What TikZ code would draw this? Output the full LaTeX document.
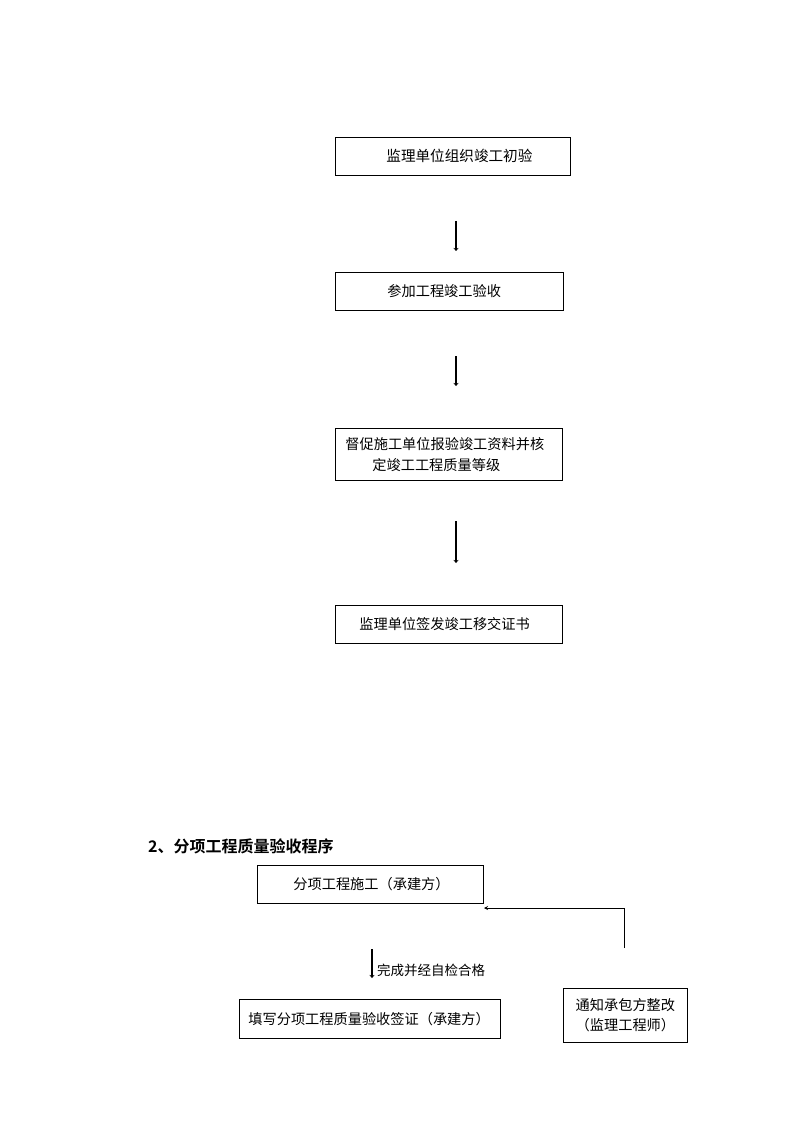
\documentclass[tikz,border=0pt]{standalone}
\usepackage{fontspec}
\setmainfont{Noto Sans CJK SC}[BoldFont={Noto Sans CJK SC Bold}]
\usetikzlibrary{arrows.meta}
\begin{document}
\begin{tikzpicture}[x=1pt,y=-1pt,
  box/.style={draw, line width=0.8pt, inner xsep=0pt, inner ysep=0pt, align=left, anchor=north west, font=\fontsize{14.2pt}{21pt}\selectfont},
  arr/.style={line width=1.6pt, -{Stealth[length=3pt,width=5pt]}},
  fb/.style={line width=0.8pt, -{Stealth[length=4pt,width=4pt]}}]
\useasboundingbox (0,0) rectangle (794,1123);
% top flow
\node[box, text width=235pt, minimum height=38pt] (b1) at (335,137) {\hspace*{51pt}\fontsize{14.6pt}{21pt}\selectfont 监理单位组织竣工初验};
\node[box, text width=228pt, minimum height=38pt] (b2) at (335,272) {\hspace*{52pt}参加工程竣工验收};
\node[box, text width=227pt, minimum height=52pt] (b3) at (335,428) {\hspace*{10pt}督促施工单位报验竣工资料并核\\\hspace*{37pt}定竣工工程质量等级};
\node[box, text width=227pt, minimum height=38pt] (b4) at (335,605) {\hspace*{24pt}监理单位签发竣工移交证书};
\coordinate (p1s) at (456,221); \coordinate (p1e) at (456,251);
\coordinate (p2s) at (456,356); \coordinate (p2e) at (456,386);
\coordinate (p3s) at (456,521); \coordinate (p3e) at (456,563);
\draw[arr] (p1s) -- (p1e);
\draw[arr] (p2s) -- (p2e);
\draw[arr] (p3s) -- (p3e);
% section 2
\node[anchor=west, inner sep=0pt, font=\fontsize{16pt}{20pt}\selectfont\bfseries] (h2) at (148,846) {2、分项工程质量验收程序};
\node[box, text width=226pt, minimum height=38pt] (b5) at (257,865) {\hspace*{36pt}分项工程施工（承建方）};
\node[box, text width=261pt, minimum height=39pt] (b6) at (239,999) {\hspace*{9pt}填写分项工程质量验收签证（承建方）};
\node[box, text width=124pt, minimum height=54pt, align=center, font=\fontsize{14.2pt}{20pt}\selectfont] (b7) at (563,988) {通知承包方整改\\（监理工程师）};
\coordinate (p4s) at (372,949); \coordinate (p4e) at (372,978);
\draw[arr] (p4s) -- (p4e);
\node[anchor=west, inner sep=0pt, font=\fontsize{13.5pt}{16pt}\selectfont] (l4) at (377,970) {完成并经自检合格};
\coordinate (f1) at (624,948);
\coordinate (f2) at (484,908);
\draw[fb] (f1) |- (f2);
\end{tikzpicture}
\end{document}
